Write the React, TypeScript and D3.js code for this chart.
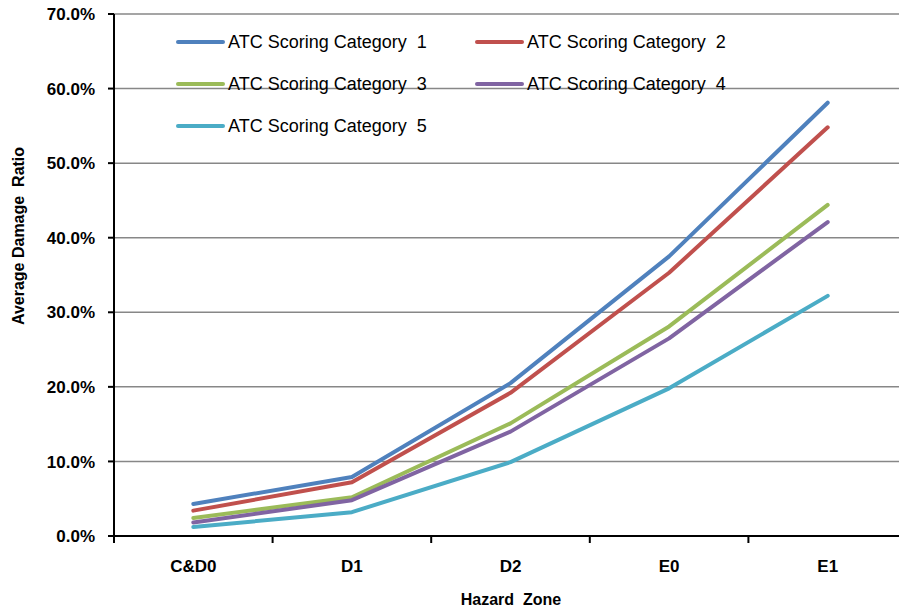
import * as d3 from "d3";

const zones = ["C&D0", "D1", "D2", "E0", "E1"];
const seriesNames = [
  "ATC Scoring Category  1",
  "ATC Scoring Category  2",
  "ATC Scoring Category  3",
  "ATC Scoring Category  4",
  "ATC Scoring Category  5",
];
const cat1 = [0.043, 0.079, 0.205, 0.375, 0.581];
const cat2 = [0.034, 0.072, 0.192, 0.353, 0.548];
const cat3 = [0.024, 0.052, 0.151, 0.281, 0.444];
const cat4 = [0.018, 0.048, 0.14, 0.265, 0.421];
const cat5 = [0.012, 0.032, 0.099, 0.198, 0.322];
const yTicks = [0, 0.1, 0.2, 0.3, 0.4, 0.5, 0.6, 0.7];

const COLORS = ["#4F81BD", "#C0504D", "#9BBB59", "#8064A2", "#4BACC6"];

export default function App() {
  const width = 899;
  const height = 610;
  const margin = { top: 14, right: -8, bottom: 74, left: 114 };

  const all = [cat1, cat2, cat3, cat4, cat5];

  const x = d3
    .scaleBand<string>()
    .domain(zones)
    .range([margin.left, width - margin.right]);
  const y = d3
    .scaleLinear()
    .domain([0, 0.7])
    .range([height - margin.bottom, margin.top]);

  const line = d3
    .line<number>()
    .x((_, i) => x(zones[i])! + x.bandwidth() / 2)
    .y((d) => y(d));

  const fmt = d3.format(".1%");
  const font = "'Liberation Sans', Arial, sans-serif";

  // legend layout: two columns
  const legendPos = (i: number) => ({
    x: i % 2 === 0 ? 178 : 477,
    y: 42 + Math.floor(i / 2) * 42,
  });

  return (
    <svg
      width={width}
      height={height}
      style={{ position: "absolute", left: 0, top: 0, background: "#fff" }}
      fontFamily={font}
    >
      {/* gridlines */}
      {yTicks.slice(1).map((t) => (
        <line
          key={t}
          x1={margin.left}
          x2={width}
          y1={y(t)}
          y2={y(t)}
          stroke="#878787"
          strokeWidth={1.5}
        />
      ))}

      {/* y axis */}
      <line
        x1={margin.left}
        x2={margin.left}
        y1={y(0.7)}
        y2={y(0)}
        stroke="#000"
        strokeWidth={2}
      />
      {yTicks.map((t) => (
        <g key={t}>
          <line
            x1={margin.left - 6}
            x2={margin.left}
            y1={y(t)}
            y2={y(t)}
            stroke="#000"
            strokeWidth={2}
          />
          <text
            x={95}
            y={y(t)}
            dy="0.36em"
            textAnchor="end"
            fontSize={17}
            fontWeight="bold"
            fill="#000"
          >
            {fmt(t)}
          </text>
        </g>
      ))}

      {/* x axis */}
      <line
        x1={margin.left}
        x2={width}
        y1={y(0)}
        y2={y(0)}
        stroke="#000"
        strokeWidth={2}
      />
      {zones.map((z) => (
        <g key={z}>
          <line
            x1={x(z)!}
            x2={x(z)!}
            y1={y(0)}
            y2={y(0) + 7}
            stroke="#000"
            strokeWidth={2}
          />
          <text
            x={x(z)! + x.bandwidth() / 2}
            y={572}
            textAnchor="middle"
            fontSize={17}
            fontWeight="bold"
          >
            {z}
          </text>
        </g>
      ))}

      {/* axis titles */}
      <text
        x={511}
        y={605}
        textAnchor="middle"
        fontSize={16}
        fontWeight="bold"
        style={{ whiteSpace: "pre" }}
      >
        {"Hazard  Zone"}
      </text>
      <text
        transform="translate(24, 236) rotate(-90)"
        textAnchor="middle"
        fontSize={16}
        fontWeight="bold"
        style={{ whiteSpace: "pre" }}
      >
        {"Average Damage  Ratio"}
      </text>

      {/* series */}
      {all.map((vals, i) => (
        <path
          key={i}
          d={line(vals) ?? undefined}
          fill="none"
          stroke={COLORS[i]}
          strokeWidth={4}
          strokeLinejoin="round"
          strokeLinecap="round"
        />
      ))}

      {/* legend */}
      {seriesNames.map((name, i) => {
        const p = legendPos(i);
        return (
          <g key={name}>
            <line
              x1={p.x}
              x2={p.x + 45}
              y1={p.y}
              y2={p.y}
              stroke={COLORS[i]}
              strokeWidth={4}
              strokeLinecap="round"
            />
            <text
              x={p.x + 50}
              y={p.y}
              dy="0.36em"
              fontSize={18}
              fill="#000"
              style={{ whiteSpace: "pre" }}
            >
              {name}
            </text>
          </g>
        );
      })}
    </svg>
  );
}
